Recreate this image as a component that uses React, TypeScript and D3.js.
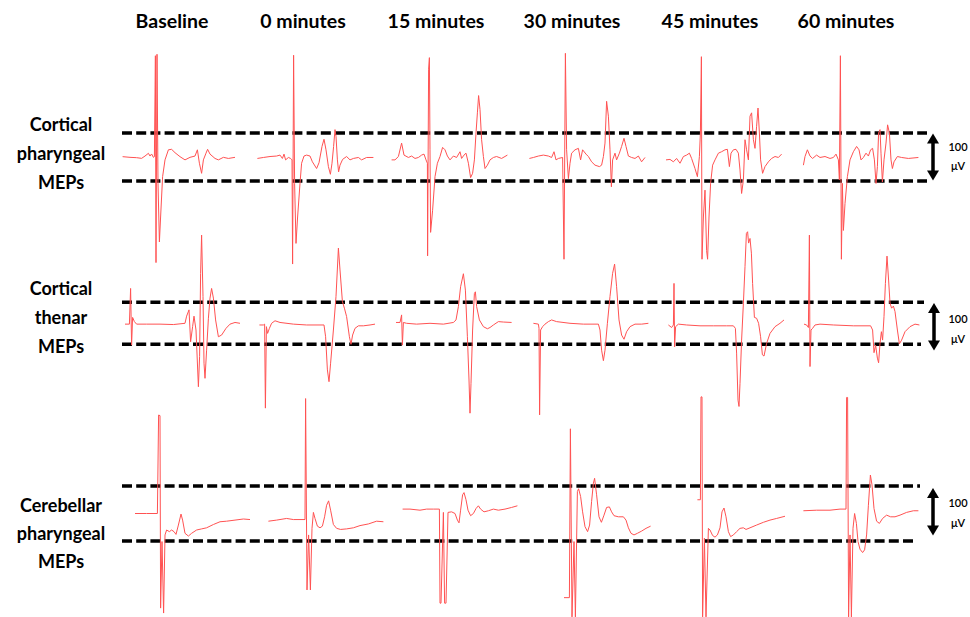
import React from "react";
import * as d3 from "d3";

// ---- Column headers and row labels ----
const timepoints = ["Baseline", "0 minutes", "15 minutes", "30 minutes", "45 minutes", "60 minutes"];
const rowLabelCP = ["Cortical", "pharyngeal", "MEPs"];
const rowLabelCT = ["Cortical", "thenar", "MEPs"];
const rowLabelCB = ["Cerebellar", "pharyngeal", "MEPs"];
const scaleBarValue = "100";
const scaleBarUnit = "\u03bcV";

// ---- Traces: [time (ms), amplitude (µV)] ----
// Cortical pharyngeal MEPs
const cpBaseline: [number, number][] = [[1.3,0.7],[5,-0.7],[8.3,-1.4],[10.8,-2.8],[12.5,2],[14.2,7.7],[15,2],[15.8,6.3],[16.7,-0.7],[17.2,0.7],[17.7,211],[18,-220],[18.5,214],[19,-55],[19.7,-177],[20.3,-125],[21.3,-41],[22.5,-6],[24.2,15],[25.8,16],[27.5,9],[30,0.7],[32.5,-6],[35,-0.7],[37.5,2],[38.7,15],[39.7,-13],[40.8,-34],[41.7,-6],[43,8],[43.8,16],[45,6],[47.5,-3],[49.2,-6],[51.7,-0.7],[54.2,-3],[57.5,-0.7]];
const cp0: [number, number][] = [[1.2,-3],[4.2,-1],[7.5,1],[10.8,2],[12.5,4],[13.7,-3],[14.5,6],[15.3,-6],[16.7,-1],[17.8,-3],[18.5,-6],[18.8,-223],[19.3,212],[19.8,-55],[20.5,-180],[21.3,-125],[22.5,-55],[23.3,-13],[24.5,2],[25.8,4],[27.5,2],[28.7,-10],[30.8,-24],[32,-12],[33.5,22],[34.5,37],[35.5,15],[36.7,-20],[37.7,-36],[38.5,-13],[39.3,22],[40,57],[40.5,43],[41.2,-6],[41.8,-31],[42.5,-17],[43.8,-5],[45.8,1],[47.5,-6],[49.2,-3],[51.7,-1],[53.3,-6],[55.8,-1],[59.2,-1]];
const cp15: [number, number][] = [[0.8,-6],[2.5,-6],[4.2,1],[5.8,29],[7,4],[9.2,-1],[10.8,2],[12.5,-3],[14.2,-1],[15.8,4],[17,6],[18,-6],[18.7,-13],[18.8,-206],[19.3,183],[19.7,207],[20,15],[20.3,-157],[21.3,-111],[22.5,-41],[23.7,-13],[25,1],[26.3,20],[27.5,15],[28.7,2],[30,-6],[31.7,2],[33.3,-1],[35,11],[35.8,-3],[37,4],[38,8],[39.2,-13],[40.3,-43],[41.3,-34],[42.2,-6],[43,50],[43.7,92],[44.3,128],[45,99],[45.8,36],[46.7,1],[47.5,-24],[48.7,-17],[50,-6],[51.7,-1],[53.3,1],[55.8,-3],[58.7,4]];
const cp30: [number, number][] = [[2.2,-3],[4.2,-1],[6.7,2],[9.2,4],[11.7,2],[13.3,-1],[14.5,11],[15.5,-6],[16.7,-3],[18.8,-1],[19.5,-213],[20.2,216],[20.8,15],[21.7,-45],[22.5,-13],[23.3,8],[25,15],[26.7,18],[27.8,-6],[28.8,15],[30.5,6],[31.7,1],[33.3,-10],[35,-17],[37.2,-20],[38.3,-17],[39.2,1],[40,29],[40.8,116],[41.7,85],[42.5,15],[43.2,-62],[43.8,-6],[45,8],[45.8,-6],[47.2,8],[48.3,22],[49.5,39],[50.5,22],[51.7,2],[53.3,-1],[55,-3],[56.7,2],[58.3,-10],[60,-1]];
const cp45: [number, number][] = [[3,-6],[5,-5],[6.7,-10],[8.3,-3],[10,-13],[11.7,1],[13.3,4],[14.7,8],[15.8,-3],[17.5,-24],[18.7,-41],[19.7,1],[20.2,50],[20.7,209],[21,-213],[21.7,-125],[22.5,-69],[23.3,-195],[23.8,-213],[24.5,-125],[25.3,-55],[26.3,-17],[27.5,-6],[29.2,8],[30.8,11],[32.5,15],[33.7,16],[34.7,-20],[35.5,8],[36.7,15],[38,16],[39.2,8],[40,-27],[40.8,-76],[41.7,-48],[42.5,36],[43.3,15],[44.2,-6],[45,85],[45.8,92],[46.7,36],[47.5,18],[48.3,64],[49,102],[49.7,50],[50.3,-6],[51.3,-34],[52.5,-20],[54.2,-10],[55.8,-3],[57.5,1],[59.2,-1],[60.8,6]];
const cp60: [number, number][] = [[4.2,-17],[5,1],[6.2,15],[7.5,2],[8.8,-3],[10.8,4],[12.5,-1],[15,1],[17.5,-3],[19.2,-1],[20.5,6],[21.7,-6],[22.2,-48],[22.7,211],[23.2,-213],[23.7,-55],[24.2,-153],[25,-97],[26.2,-41],[27.5,-6],[29.2,11],[30.8,22],[32,15],[33,-6],[34.2,-1],[35.5,8],[36.7,2],[37.8,15],[38.8,18],[39.7,-6],[40.5,-55],[41.2,-20],[41.8,50],[42.5,57],[43,8],[43.7,-52],[44.5,-6],[45.5,29],[46.3,67],[47.2,50],[48,-6],[48.7,-24],[49.5,-10],[51.2,1],[53.3,-1],[56.7,-3],[61.7,-1]];

// Cortical thenar MEPs
const ctBaseline: [number, number][] = [[2.5,-2],[4.7,-2],[5.3,83],[5.8,-52],[6.3,14],[7.2,4],[8.3,-2],[13.3,-2],[20,-2],[26.7,-3],[32.5,0],[33.3,17],[34.5,32],[35.3,-44],[36.3,-8],[37,17],[38,-16],[39.2,-151],[39.8,-79],[40.3,119],[40.8,210],[41.5,64],[42,-95],[42.5,-131],[43.3,-64],[44.2,12],[45,60],[45.8,83],[46.7,60],[47.8,8],[49.2,-32],[50.8,-28],[53,-12],[55,-2],[57.5,2],[60,0]];
const ct0: [number, number][] = [[2.2,-4],[4.2,-4],[4.8,-2],[5.2,-202],[5.7,-8],[6.3,-24],[7.2,-12],[8.3,0],[10,6],[12.5,2],[19.2,-2],[25.8,-4],[34.5,-4],[35.3,-32],[36.2,-111],[37,-139],[37.8,-95],[39.2,-16],[40.5,64],[41.7,179],[42.5,127],[43.7,52],[44.7,36],[45.8,16],[47.2,-32],[48,-50],[48.8,-28],[50,-12],[51.7,-6],[54.2,-6],[57.5,-4],[60,-2]];
const ct15: [number, number][] = [[3,2],[5,2],[5.8,20],[6.2,-52],[6.7,2],[8.3,0],[13.3,-2],[20,0],[26.7,-2],[31.7,2],[33,8],[34.2,40],[35.3,87],[36.7,118],[37.7,79],[38.7,-32],[39.5,-135],[40,-214],[40.5,-143],[41.3,-16],[42.2,71],[42.7,75],[43.3,40],[44.7,8],[46.7,-8],[48.7,-13],[50,-10],[51.7,-4],[54.2,4],[56.7,3],[60.8,2]];
const ct30: [number, number][] = [[4.2,0],[6.7,-2],[7,-12],[7.3,-218],[7.8,-16],[8.8,-8],[10,-2],[11.7,4],[13.3,8],[15.8,4],[22.5,0],[29.2,-2],[36.7,-2],[37.5,-16],[38.3,-64],[39.2,-89],[40,-64],[41.2,0],[42.5,64],[43.8,119],[44.8,141],[45.8,87],[47,8],[48.3,-28],[49.5,-38],[50.8,-20],[52.5,-8],[55,-2],[58.3,-2],[61.7,0]];
const ct45: [number, number][] = [[4.2,-4],[5.8,-10],[6.7,-4],[7,95],[7.3,-56],[7.8,-8],[9.2,-2],[13.3,-4],[20,-6],[26.7,-6],[33.3,-6],[36.7,-6],[37.7,-12],[38.3,-71],[39,-183],[39.5,-198],[40,-143],[40.8,-40],[41.7,48],[42.5,135],[43.2,214],[43.8,218],[44.3,191],[45,202],[45.7,167],[46.3,95],[47.2,14],[48.3,12],[49.3,0],[50.3,-32],[51.2,-75],[52,-78],[53.3,-48],[55,-24],[57.5,-8],[60,0],[62,8]];
const ct60: [number, number][] = [[4.5,-2],[5.8,-4],[6.7,-10],[7.2,210],[7.5,-103],[8,-16],[8.8,-12],[10,-4],[12.5,-2],[19.2,-4],[29.2,-6],[37.8,-6],[38.8,-16],[39.5,-70],[40.3,-52],[41.2,-83],[41.8,-94],[42.5,-48],[43.2,-20],[43.8,-40],[44.5,16],[45.2,95],[46,160],[46.8,103],[47.5,48],[48.3,36],[49.2,41],[50,28],[51.2,-16],[52.2,-49],[53.3,-40],[55,-20],[57.5,-8],[60,-2],[62.2,-4]];

// Cerebellar pharyngeal MEPs
const cbBaseline: [number, number][] = [[7.5,0],[13.3,0],[18.7,0],[19.3,179],[20,178],[20.3,-172],[21,-51],[21.8,-181],[22.5,-39],[23.3,-30],[24.7,-33],[25.8,-30],[27,-33],[28,-38],[29.2,-21],[30.5,-1],[31.3,-12],[32.5,-36],[34.2,-41],[35.8,-36],[38.3,-30],[40.8,-28],[43.3,-26],[46.7,-20],[50,-15],[53.3,-14],[57.5,-12],[61.7,-10],[65,-11]];
const cb0: [number, number][] = [[6.7,-14],[10.8,-12],[15.8,-9],[19.2,-11],[25,-11],[25.3,209],[26,-139],[26.8,-39],[27.7,-139],[28.5,-27],[29.2,2],[30,-9],[31.2,-23],[32.5,-26],[33.7,-23],[34.8,-6],[35.8,15],[36.8,23],[37.8,6],[39.2,-20],[40.8,-27],[42.8,-29],[45.8,-28],[49.2,-26],[52.5,-22],[56.7,-19],[60.8,-14],[64.2,-15]];
const cb15: [number, number][] = [[6.3,8],[10,8],[15,6],[18.3,8],[21.7,8],[24.7,8],[25,-163],[25.5,-163],[26.7,2],[27.3,-163],[28,-163],[29,2],[30.8,3],[32.5,0],[33.7,-12],[34.5,-17],[35.3,6],[36.3,34],[37,38],[38,25],[39,6],[40.3,-4],[41.7,0],[43,9],[44.2,14],[45.3,8],[47,3],[49.2,5],[51.7,8],[54.2,6],[57.5,8],[60.8,11],[63.7,14]];
const cb30: [number, number][] = [[19.5,-153],[22.2,-153],[22.7,154],[23.5,-188],[24.5,-51],[25.2,-188],[26.2,40],[26.8,45],[27.8,31],[28.8,3],[30,-24],[31.3,-33],[32.3,-21],[33.3,22],[34.2,55],[34.8,64],[35.8,34],[37,-6],[38.2,-16],[39.5,-3],[40.8,11],[42.2,12],[43.3,3],[44.5,-4],[46.7,-6],[49.2,-6],[50.5,-12],[51.7,-26],[53,-36],[54.5,-39],[56.2,-36],[58.3,-32],[60.5,-27],[62.8,-23]];
const cb45: [number, number][] = [[18.7,25],[20.2,25],[20.5,212],[21,212],[21.3,-188],[22.2,-45],[23,-188],[24.2,-27],[25,-30],[26.3,-40],[27.5,-43],[28.7,-39],[30,-26],[31,3],[32,10],[33,-6],[34.2,-33],[35.3,-42],[36.7,-39],[38.3,-33],[40,-27],[41.7,-26],[43,-29],[45,-26],[48.3,-21],[51.7,-16],[55,-12],[58.3,-9],[62.5,-5]];
const cb60: [number, number][] = [[4.2,5],[10.8,6],[17.5,6],[22.5,8],[25.5,8],[25.8,211],[26.3,211],[26.8,-188],[27.5,-39],[28.2,-188],[29,-27],[29.8,0],[30.7,-18],[31.5,-51],[32.5,-65],[33.8,-71],[34.8,-66],[35.8,-39],[36.7,15],[37.7,70],[38.5,52],[39.5,9],[40.8,-14],[42.2,-18],[43.8,-9],[45.8,-3],[47.8,-6],[50,-6],[52.5,-3],[55.8,2],[59.2,5],[61.7,5]];

// ---- Layout ----
const W = 970;
const H = 617;
const COL_X0 = 120;
const COL_STEP = 135;
const PX_PER_MS = 2;
const HEADER_X = [172, 303, 436, 572, 710, 846];
const FONT = "Lato, 'Open Sans', 'DejaVu Sans', sans-serif";
const TRACE_COLOR = "#ff5252";

type Row = {
  labels: string[];
  labelY: number[];
  top: number;
  bottom: number;
  dashTopEnd: number;
  dashBottomEnd: number;
  arrow: [number, number];
  arrowX: number;
  unitY: [number, number];
  traces: [number, number][][];
};

const rows: Row[] = [
  { labels: rowLabelCP, labelY: [131, 160, 189], top: 133, bottom: 181, dashTopEnd: 927, dashBottomEnd: 927, arrow: [133.5, 180.5], arrowX: 933, unitY: [151, 170], traces: [cpBaseline, cp0, cp15, cp30, cp45, cp60] },
  { labels: rowLabelCT, labelY: [295, 324, 353], top: 302.3, bottom: 344.3, dashTopEnd: 924, dashBottomEnd: 921, arrow: [303, 350.5], arrowX: 934, unitY: [323, 343], traces: [ctBaseline, ct0, ct15, ct30, ct45, ct60] },
  { labels: rowLabelCB, labelY: [512, 540, 568], top: 486, bottom: 541, dashTopEnd: 920, dashBottomEnd: 913, arrow: [488, 535.5], arrowX: 933, unitY: [507, 527], traces: [cbBaseline, cb0, cb15, cb30, cb45, cb60] },
];

function Arrow({ x, y1, y2 }: { x: number; y1: number; y2: number }) {
  const hw = 6;
  const hh = 10;
  return (
    <g>
      <line x1={x} x2={x} y1={y1 + hh - 1} y2={y2 - hh + 1} stroke="#000" strokeWidth={3.5} />
      <path d={`M${x},${y1} L${x - hw},${y1 + hh} L${x + hw},${y1 + hh} Z`} fill="#000" />
      <path d={`M${x},${y2} L${x - hw},${y2 - hh} L${x + hw},${y2 - hh} Z`} fill="#000" />
    </g>
  );
}

export default function App() {
  return (
    <svg
      width={W}
      height={H}
      viewBox={`0 0 ${W} ${H}`}
      style={{ position: "absolute", left: 0, top: 0, background: "#fff" }}
    >
      <rect x={0} y={0} width={W} height={H} fill="#fff" />
      {timepoints.map((tp, i) => (
        <text
          key={tp}
          x={HEADER_X[i]}
          y={28}
          textAnchor="middle"
          fontFamily={FONT}
          fontWeight={700}
          fontSize={19.5}
          fill="#000"
        >
          {tp}
        </text>
      ))}
      {rows.map((row, ri) => {
        const y = d3.scaleLinear().domain([-50, 50]).range([row.bottom, row.top]);
        return (
          <g key={ri}>
            {row.labels.map((lab, li) => (
              <text
                key={li}
                x={61}
                y={row.labelY[li]}
                textAnchor="middle"
                fontFamily={FONT}
                fontWeight={700}
                fontSize={18}
                fill="#000"
              >
                {lab}
              </text>
            ))}
            <line x1={122} x2={row.dashTopEnd} y1={y(50)} y2={y(50)} stroke="#000" strokeWidth={3.5} strokeDasharray="10 4.2" />
            <line x1={122} x2={row.dashBottomEnd} y1={y(-50)} y2={y(-50)} stroke="#000" strokeWidth={3.5} strokeDasharray="10 4.2" />
            {row.traces.map((tr, ci) => {
              const x0 = COL_X0 + ci * COL_STEP;
              const x = d3.scaleLinear().domain([0, 65]).range([x0, x0 + 65 * PX_PER_MS]);
              const line = d3
                .line<[number, number]>()
                .x((d) => x(d[0]))
                .y((d) => y(d[1]))
                .curve(d3.curveLinear);
              return (
                <path
                  key={ci}
                  d={line(tr) || ""}
                  fill="none"
                  stroke={TRACE_COLOR}
                  strokeWidth={1}
                  strokeLinejoin="round"
                />
              );
            })}
            <Arrow x={row.arrowX} y1={row.arrow[0]} y2={row.arrow[1]} />
            <text x={958} y={row.unitY[0]} textAnchor="middle" fontFamily={FONT} fontWeight={600} fontSize={11} fill="#000">
              {scaleBarValue}
            </text>
            <text x={958} y={row.unitY[1]} textAnchor="middle" fontFamily={FONT} fontWeight={600} fontSize={11} fill="#000">
              {scaleBarUnit}
            </text>
          </g>
        );
      })}
    </svg>
  );
}
